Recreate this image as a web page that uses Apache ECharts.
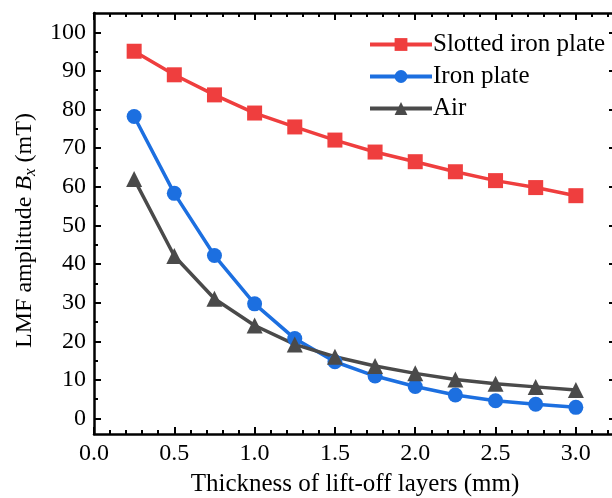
<!DOCTYPE html>
<html><head><meta charset="utf-8">
<script src="https://cdn.jsdelivr.net/npm/echarts@6/dist/echarts.min.js"></script>
<style>html,body{margin:0;padding:0;background:#fff}#c{width:612px;height:498px}</style>
</head><body><div id="c"></div>
<script>
const thickness = [0.25,0.5,0.75,1.0,1.25,1.5,1.75,2.0,2.25,2.5,2.75,3.0];
const slotted = [95.1,89.0,83.8,79.1,75.5,72.1,69.0,66.5,63.9,61.6,59.8,57.7];
const ironPlate = [78.2,58.3,42.2,29.7,20.7,14.7,11.0,8.3,6.1,4.6,3.7,2.9];
const air = [62.0,42.1,31.0,24.1,19.2,16.0,13.6,11.7,10.1,9.0,8.2,7.4];
const xMajor = [0,0.5,1.0,1.5,2.0,2.5,3.0];
const xMinor = [0.1,0.2,0.3,0.4,0.6,0.7,0.8,0.9,1.1,1.2,1.3,1.4,1.6,1.7,1.8,1.9,2.1,2.2,2.3,2.4,2.6,2.7,2.8,2.9,3.1,3.2];
const yMajor = [0,10,20,30,40,50,60,70,80,90,100];
const yMinor = [5,15,25,35,45,55,65,75,85,95];
const names = ['Slotted iron plate','Iron plate','Air'];

const FONT = 'Liberation Serif';
const chart = echarts.init(document.getElementById('c'));
const pairs = v => thickness.map((x,i)=>[x,v[i]]);
const axisLineStyle = {color:'#000', width:2.5};
function xAx(pos, ticks, len, labels, showLine, extra){
  return Object.assign({type:'value', position:pos, min:0, max:3.25, gridIndex:0,
    axisLine:{show:showLine, onZero:false, lineStyle:axisLineStyle},
    axisTick:{show:true, inside:true, length:len, customValues:ticks, lineStyle:{color:'#000', width:2}},
    axisLabel:{show:labels, customValues:ticks, formatter:v=>v.toFixed(1), color:'#000', fontFamily:FONT, fontSize:24, margin:8},
    splitLine:{show:false}}, extra||{});
}
function yAx(pos, ticks, len, labels, showLine, extra){
  return Object.assign({type:'value', position:pos, min:-4, max:105, gridIndex:0,
    axisLine:{show:showLine, onZero:false, lineStyle:axisLineStyle},
    axisTick:{show:true, inside:true, length:len, customValues:ticks, lineStyle:{color:'#000', width:2}},
    axisLabel:{show:labels, customValues:ticks, color:'#000', fontFamily:FONT, fontSize:24, margin:8},
    splitLine:{show:false}}, extra||{});
}
chart.setOption({
  animation:false,
  backgroundColor:'#fff',
  grid:{left:94, top:13, width:522, height:421, containLabel:false, outerBoundsMode:'none'},
  legend:{left:363, top:27, orient:'vertical', itemWidth:62, itemHeight:16, itemGap:7,
    lineStyle:{width:4},
    textStyle:{fontFamily:FONT, fontSize:25, color:'#000', padding:[0,0,0,-4]},
    data:names},
  xAxis:[
    xAx('bottom', xMajor, 7, true, true, {name:'Thickness of lift-off layers (mm)', nameLocation:'middle', nameGap:38,
      nameTextStyle:{fontFamily:FONT, fontSize:25, color:'#000'}}),
    xAx('bottom', xMinor, 4, false, false),
    xAx('top', xMajor, 7, false, true),
    xAx('top', xMinor, 4, false, false)
  ],
  yAxis:[
    yAx('left', yMajor, 7, true, true, {name:'{a|LMF amplitude }{b|B}{c|x}{a| (mT)}', nameLocation:'middle', nameGap:53,
      nameTextStyle:{fontFamily:FONT, fontSize:24, color:'#000', padding:[0,14,0,0],
        rich:{a:{fontFamily:FONT, fontSize:24, color:'#000'},
              b:{fontFamily:FONT, fontSize:24, fontStyle:'italic', color:'#000'},
              c:{fontFamily:FONT, fontSize:17, fontStyle:'italic', color:'#000', padding:[12,0,0,0]}}}}),
    yAx('left', yMinor, 4, false, false),
    yAx('right', yMajor, 7, false, true),
    yAx('right', yMinor, 4, false, false)
  ],
  series:[
    {name:names[0], type:'line', data:pairs(slotted), symbol:'rect', symbolSize:15,
      lineStyle:{color:'#EF3E3E', width:3.5}, itemStyle:{color:'#EF3E3E'}},
    {name:names[1], type:'line', data:pairs(ironPlate), symbol:'circle', symbolSize:15,
      lineStyle:{color:'#1C6FE0', width:3.5}, itemStyle:{color:'#1C6FE0'}},
    {name:names[2], type:'line', data:pairs(air), symbol:'triangle', symbolSize:16,
      lineStyle:{color:'#4A4A4A', width:3.5}, itemStyle:{color:'#4A4A4A'}}
  ]
});
</script></body></html>
